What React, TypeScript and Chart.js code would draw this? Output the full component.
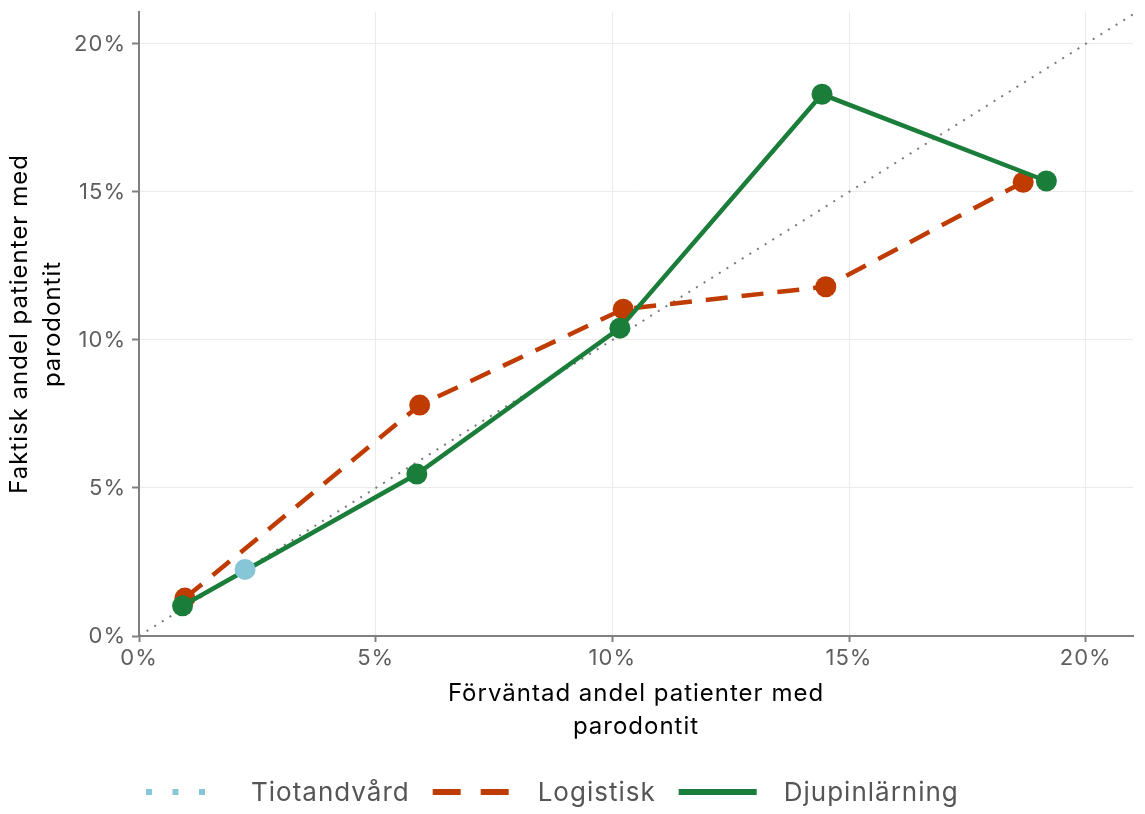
import React, { useEffect, useRef } from "react";
import { Chart, registerables } from "chart.js";

Chart.register(...registerables);

const seriesNames = ["Tiotandvård", "Logistisk", "Djupinlärning"];
const tiotandX = [2.24];
const tiotandY = [2.25];
const logistiskX = [0.97, 5.93, 10.23, 14.51, 18.68];
const logistiskY = [1.28, 7.8, 11.04, 11.8, 15.33];
const djupX = [0.92, 5.87, 10.16, 14.43, 19.17];
const djupY = [1.02, 5.47, 10.4, 18.3, 15.37];
const diagonal = [0, 21.1];
const tickValues = [0, 5, 10, 15, 20];
const xTitle = ["Förväntad andel patienter med", "parodontit"];
const yTitle = ["Faktisk andel patienter med", "parodontit"];

const BLUE = "#86c6d6";
const ORANGE = "#bf3b00";
const GREEN = "#1b7d3a";
const FONT = "Inter, Roboto, 'DejaVu Sans', sans-serif";
const SPACING = "1px";

const pts = (xs: number[], ys: number[]) => xs.map((x, i) => ({ x, y: ys[i] }));

const spacingPlugin = {
  id: "spacing",
  beforeLayout(chart: any) {
    chart.ctx.letterSpacing = SPACING;
  },
  beforeDraw(chart: any) {
    chart.ctx.letterSpacing = SPACING;
  },
};

const legendPlugin = {
  id: "customLegend",
  afterDraw(chart: any) {
    const ctx = chart.ctx;
    const items = [
      { label: seriesNames[0], color: BLUE, dash: [6, 20.5] },
      { label: seriesNames[1], color: ORANGE, dash: [28, 20] },
      { label: seriesNames[2], color: GREEN, dash: [] as number[] },
    ];
    ctx.save();
    ctx.letterSpacing = SPACING;
    ctx.font = `26px ${FONT}`;
    ctx.textBaseline = "middle";
    let x = 146;
    const y = 792;
    items.forEach((it) => {
      ctx.beginPath();
      ctx.setLineDash(it.dash);
      ctx.lineCap = "butt";
      ctx.strokeStyle = it.color;
      ctx.lineWidth = 6;
      ctx.moveTo(x, y);
      ctx.lineTo(x + 78, y);
      ctx.stroke();
      ctx.setLineDash([]);
      x += 78 + 27;
      ctx.fillStyle = "#555555";
      ctx.fillText(it.label, x, y + 1);
      x += ctx.measureText(it.label).width + 23;
    });
    ctx.restore();
  },
};

export default function App() {
  const ref = useRef<HTMLCanvasElement>(null);
  useEffect(() => {
    if (!ref.current) return;
    const chart = new Chart(ref.current, {
      type: "scatter",
      data: {
        datasets: [
          {
            label: "diag",
            data: pts(diagonal, diagonal),
            showLine: true,
            borderColor: "#7a7a7a",
            borderWidth: 2,
            borderDash: [2, 7],
            pointRadius: 0,
            order: 10,
          },
          {
            label: seriesNames[1] + " line",
            data: pts(logistiskX, logistiskY),
            showLine: true,
            borderColor: ORANGE,
            borderWidth: 4.5,
            borderDash: [22, 14],
            pointRadius: 0,
            order: 9,
          },
          {
            label: seriesNames[1],
            data: pts(logistiskX, logistiskY),
            showLine: false,
            backgroundColor: ORANGE,
            borderColor: ORANGE,
            pointRadius: 10.5,
            pointBorderWidth: 0,
            order: 8,
          },
          {
            label: seriesNames[2] + " line",
            data: pts(djupX, djupY),
            showLine: true,
            borderColor: GREEN,
            borderWidth: 4.5,
            pointRadius: 0,
            order: 7,
          },
          {
            label: seriesNames[2],
            data: pts(djupX, djupY),
            showLine: false,
            backgroundColor: GREEN,
            borderColor: GREEN,
            pointRadius: 10.5,
            pointBorderWidth: 0,
            order: 6,
          },
          {
            label: seriesNames[0],
            data: pts(tiotandX, tiotandY),
            showLine: true,
            borderColor: BLUE,
            borderDash: [2, 6],
            backgroundColor: BLUE,
            pointRadius: 10.5,
            pointBorderWidth: 0,
            order: 5,
          },
        ],
      },
      options: {
        animation: false,
        responsive: false,
        devicePixelRatio: 1,
        layout: { padding: { top: 12, right: 12, bottom: 68, left: 0 } },
        plugins: {
          legend: { display: false },
          tooltip: { enabled: false },
        },
        scales: {
          x: {
            type: "linear",
            min: 0,
            max: 21,
            afterFit: (s: any) => {
              s.height = 110;
              s.paddingLeft = 0;
              s.paddingRight = 0;
            },
            afterBuildTicks: (s: any) => {
              s.ticks = tickValues.map((v) => ({ value: v }));
            },
            ticks: {
              callback: (v: any) => `${v}%`,
              color: "#5e5e5e",
              font: { family: FONT, size: 22 },
              padding: 3,
              maxRotation: 0,
            },
            grid: {
              color: "#ebebeb",
              lineWidth: 1,
              tickColor: "#808080",
              tickLength: 6,
              tickWidth: 2,
            },
            border: { display: true, color: "#808080", width: 2 },
            title: {
              display: true,
              text: xTitle,
              color: "#000000",
              font: { family: FONT, size: 24, lineHeight: 1.375 },
              padding: { top: 0, bottom: 3 },
            },
          },
          y: {
            type: "linear",
            min: 0,
            max: 21.08,
            afterFit: (s: any) => {
              s.width = 139;
              s.paddingTop = 0;
              s.paddingBottom = 0;
            },
            afterBuildTicks: (s: any) => {
              s.ticks = tickValues.map((v) => ({ value: v }));
            },
            ticks: {
              callback: (v: any) => `${v}%`,
              color: "#5e5e5e",
              font: { family: FONT, size: 22 },
              padding: 6,
            },
            grid: {
              color: "#ebebeb",
              lineWidth: 1,
              tickColor: "#808080",
              tickLength: 7,
              tickWidth: 2,
            },
            border: { display: true, color: "#808080", width: 2 },
            title: {
              display: true,
              text: yTitle,
              color: "#000000",
              font: { family: FONT, size: 24, lineHeight: 1.375 },
              padding: { top: 3, bottom: 0 },
            },
          },
        },
      },
      plugins: [spacingPlugin, legendPlugin],
    });
    return () => chart.destroy();
  }, []);
  return (
    <div style={{ position: "absolute", left: 0, top: 0, width: 1145, height: 814, background: "#ffffff" }}>
      <canvas ref={ref} width={1145} height={814} style={{ width: 1145, height: 814 }} />
    </div>
  );
}
